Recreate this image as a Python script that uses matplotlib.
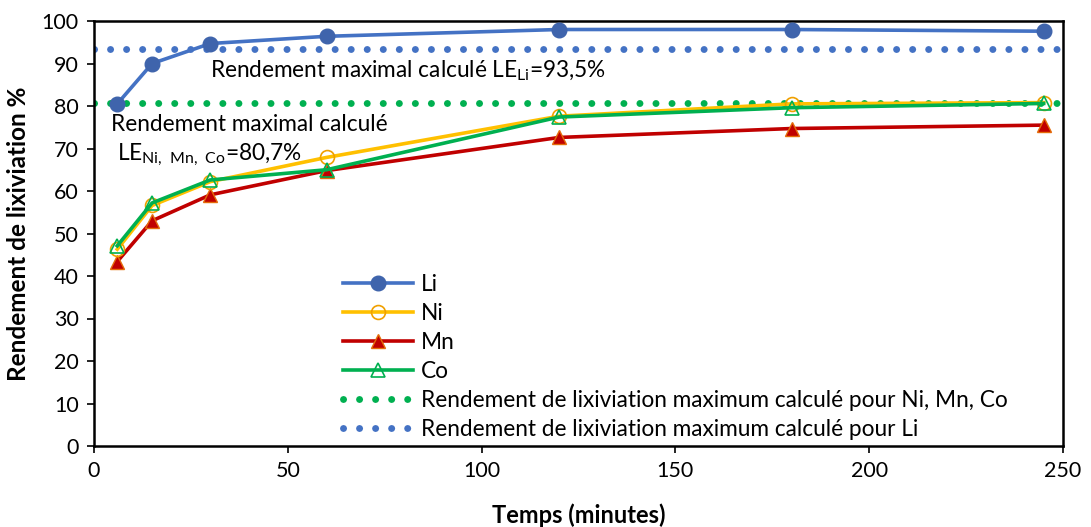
import numpy as np
import matplotlib
matplotlib.use("Agg")
import matplotlib.pyplot as plt
from matplotlib.lines import Line2D

plt.rcParams['font.family'] = ['Lato', 'DejaVu Sans']
plt.rcParams['mathtext.default'] = 'regular'

# Données
temps = [6, 15, 30, 60, 120, 180, 245]
li = [80.5, 90.0, 94.7, 96.4, 98.0, 98.0, 97.6]
ni = [46.3, 56.6, 62.2, 67.9, 77.6, 80.5, 80.8]
mn = [43.4, 53.0, 59.1, 64.8, 72.6, 74.7, 75.5]
co = [47.1, 57.2, 62.6, 65.0, 77.4, 79.6, 80.6]
max_li = 93.5
max_nimnco = 80.7

fs = 15.5
fs_txt = 16.3

fig = plt.figure(figsize=(10.91, 5.27), dpi=100)
ax = fig.add_axes([94/1091, 1 - 446/527, (1063-94)/1091, (446-21)/527])

dot = (0, (0.01, 2.3))
ax.axhline(max_nimnco, color='#00B050', lw=5, ls=dot, dash_capstyle='round', zorder=1)
ax.axhline(max_li, color='#4472C4', lw=5, ls=dot, dash_capstyle='round', zorder=1)

ax.plot(temps, li, color='#4472C4', lw=2.6, marker='o', ms=10.5,
        mfc='#3F64AC', mec='#3F64AC', zorder=5)
ax.plot(temps, ni, color='#FFC000', lw=2.6, marker='o', ms=10,
        mfc='none', mec='#F0A000', mew=1.2, zorder=3)
ax.plot(temps, mn, color='#C00000', lw=2.6, marker='^', ms=10,
        mfc='#C00000', mec='#E46C0A', mew=1.0, zorder=2)
ax.plot(temps, co, color='#00B050', lw=2.6, marker='^', ms=10,
        mfc='none', mec='#00B050', mew=1.2, zorder=4)

ax.text(30, 88.3, 'Rendement maximal calculé LE$_{Li}$=93,5%', fontsize=fs_txt, va='center')
ax.text(4.5, 75.6, 'Rendement maximal calculé', fontsize=fs_txt, va='center')
ax.text(6, 68.4, 'LE$_{Ni,\\ Mn,\\ Co}$=80,7%', fontsize=fs_txt, va='center')

ax.set_xlim(0, 250)
ax.set_ylim(0, 100)
ax.set_xticks(np.arange(0, 251, 50))
ax.set_yticks(np.arange(0, 101, 10))
ax.tick_params(direction='out', length=5, width=1.2, labelsize=fs, pad=6)
for s in ax.spines.values():
    s.set_linewidth(1.8)
    s.set_color('black')

ax.set_xlabel('Temps (minutes)', fontsize=17, fontweight='bold', labelpad=16)
ax.set_ylabel('Rendement de lixiviation %', fontsize=17.5, fontweight='bold', labelpad=8)

handles = [
    Line2D([], [], color='#4472C4', lw=2.6, marker='o', ms=10.5, mfc='#3F64AC', mec='#3F64AC'),
    Line2D([], [], color='#FFC000', lw=2.6, marker='o', ms=10, mfc='none', mec='#F0A000', mew=1.2),
    Line2D([], [], color='#C00000', lw=2.6, marker='^', ms=10, mfc='#C00000', mec='#E46C0A'),
    Line2D([], [], color='#00B050', lw=2.6, marker='^', ms=10, mfc='none', mec='#00B050', mew=1.2),
    Line2D([], [], color='#00B050', lw=5, ls=dot, dash_capstyle='round'),
    Line2D([], [], color='#4472C4', lw=5, ls=dot, dash_capstyle='round'),
]
labels = ['Li', 'Ni', 'Mn', 'Co',
          'Rendement de lixiviation maximum calculé pour Ni, Mn, Co',
          'Rendement de lixiviation maximum calculé pour Li']
fig.legend(handles, labels, loc='center left', bbox_to_anchor=(343/1091, 1 - 357/527),
           frameon=False, fontsize=fs_txt, handlelength=3.1, handletextpad=0.35,
           labelspacing=0.35, borderpad=0, borderaxespad=0)

fig.savefig('out.png', dpi=100)
